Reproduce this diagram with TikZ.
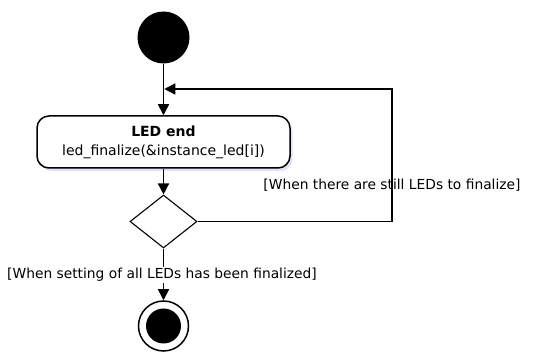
\documentclass[tikz,border=0pt]{standalone}
\usepackage{fontspec}
\setmainfont{DejaVu Sans}
\usetikzlibrary{arrows.meta,shapes,calc,positioning}

\begin{document}
\begin{tikzpicture}[x=1pt,y=-1pt]
            \tikzset{flow/.style = {-{Triangle[length=11pt,width=11pt]}, line width=1.5pt}}
            \tikzset{guard/.style = {font=\fontsize{13.8}{16}\selectfont, inner sep=1pt}}
            \useasboundingbox (0,0) rectangle (542,352);

            % states
            \node[circle, fill=black, minimum size=52pt, inner sep=0pt] (start) at (163.5,37.5) {};
            \fill[blue!12, rounded corners=12pt] (39.5,119) rectangle (292.5,171);
            \node[draw, fill=white, rounded corners=12pt, line width=1.5pt, minimum width=253pt, minimum height=52pt,
                  align=center, font=\fontsize{14}{19}\selectfont] (action) at (163.5,142)
                  {\textbf{LED end}\\led\_finalize(\&instance\_led[i])};
            \node[diamond, draw, line width=1.1pt, minimum width=67pt, minimum height=53pt, inner sep=0pt] (decision) at (163.5,221.5) {};
            \node[circle, draw, line width=1.5pt, minimum size=50pt, inner sep=0pt] (final) at (163.5,326) {};
            \node[circle, fill=black, minimum size=35pt, inner sep=0pt] (finalDot) at (final.center) {};

            % edges
            \coordinate (merge) at (163.5,89);
            \coordinate (turn) at (392,221.5);
            \draw[line width=1.5pt] (start) -- (merge);
            \draw[flow] (merge) -- (action);
            \draw[flow] (action) -- (decision);
            \draw[flow, shorten >=0.8pt] (decision.east) -- (turn) |- (merge);
            \draw[flow] (decision) -- (final);

            % guards
            \node[guard] (loopGuard) at (392,185) {[When there are still LEDs to finalize]};
            \node[guard, fill=white] (doneGuard) at (162,275) {[When setting of all LEDs has been finalized]};
\end{tikzpicture}
\end{document}
